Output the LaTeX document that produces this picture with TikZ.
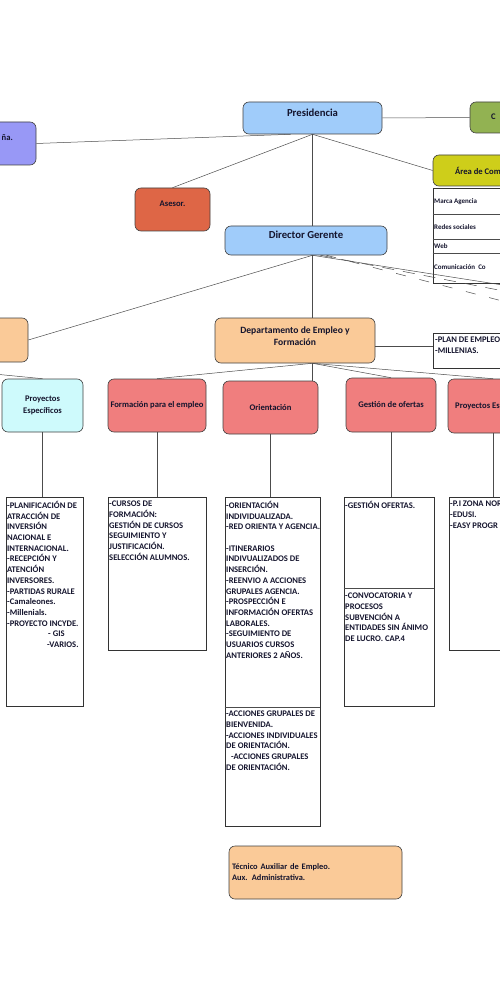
\documentclass[tikz,border=0pt]{standalone}
\usepackage{fontspec}
\setmainfont{Carlito}

\definecolor{azul}{RGB}{160,204,250}
\definecolor{lila}{RGB}{152,152,246}
\definecolor{verde}{RGB}{146,178,82}
\definecolor{teja}{RGB}{222,102,70}
\definecolor{amarillo}{RGB}{206,206,26}
\definecolor{melocoton}{RGB}{250,202,152}
\definecolor{salmon}{RGB}{240,126,126}
\definecolor{celeste}{RGB}{206,250,252}
\definecolor{tinta}{RGB}{20,20,45}

\tikzset{
  caja/.style={draw=black!75,line width=0.6pt,rounded corners=6pt,inner sep=1pt,
    align=center,text=tinta,font=\bfseries\fontsize{8.6}{12.5}\selectfont},
  rotulo/.style={inner sep=1pt,text=tinta,font=\bfseries\fontsize{8.6}{12.5}\selectfont},
  grande/.style={font=\bfseries\fontsize{10.7}{12}\selectfont},
  lista/.style={draw=black!80,line width=0.7pt,inner sep=0pt},
  texto/.style={anchor=north west,inner sep=1pt,align=left,text=tinta,
    font=\bfseries\fontsize{8.6}{10.7}\selectfont},
  fila/.style={anchor=west,inner sep=1pt,text=tinta,font=\bfseries\fontsize{7}{8}\selectfont},
  linea/.style={draw=black!70,line width=0.5pt},
}

\begin{document}
\begin{tikzpicture}[x=1pt,y=-1pt]
\useasboundingbox (0,0) rectangle (500,1000);
\clip (0,0) rectangle (500,1000);

% direccion
\node[caja,grande,fill=azul,minimum width=139pt,minimum height=32pt,text depth=11pt] (pres) at (312.5,118) {Presidencia};
\node[caja,fill=lila,minimum width=76pt,minimum height=43pt] (cia) at (-2,143.5) {};
\node[rotulo,anchor=east] (ciat) at (14,138) {ña.};
\node[caja,fill=verde,minimum width=90pt,minimum height=31pt] (grn) at (515,117.5) {};
\node[rotulo,anchor=west] (grnt) at (490,117) {C};
\node[caja,fill=teja,minimum width=75pt,minimum height=43pt,text depth=12pt] (ases) at (172.5,209.5) {Asesor.};
\node[caja,grande,fill=azul,minimum width=162pt,minimum height=29pt,text depth=12pt] (dg) at (306,240.5) {Director Gerente};
\node[caja,fill=amarillo,minimum width=124pt,minimum height=31pt] (com) at (495,170.5) {Área de Comunicación};

% tabla de comunicacion
\node[lista,minimum width=124pt,minimum height=95pt] (tbl) at (495,235.5) {};
\draw[linea] (tbl.west |- 0,214) -- (tbl.east |- 0,214);
\draw[linea] (tbl.west |- 0,239) -- (tbl.east |- 0,239);
\draw[linea] (tbl.west |- 0,253) -- (tbl.east |- 0,253);
\node[fila] (f1) at (433,202) {Marca Agencia};
\node[fila] (f2) at (433,227) {Redes sociales};
\node[fila] (f3) at (433,246) {Web};
\node[fila] (f4) at (433,267) {Comunicación~ Co};

\draw[linea] (pres.east) -- (grn.west);
\draw[linea] (cia.east) -- ([xshift=-22pt]pres.south);
\draw[linea] (pres.south) -- (ases.north);
\draw[linea] (pres.south) -- (pres.south |- dg.north);
\draw[linea] (pres.south) -- (com.west);

% departamentos
\coordinate (dgb) at (pres.south |- dg.south);
\coordinate (offr) at (560,294);
\coordinate (offd1) at (560,302);
\coordinate (offd2) at (560,316);
\node[caja,fill=melocoton,minimum width=88pt,minimum height=44pt] (lft) at (-16,340) {};
\node[caja,fill=melocoton,minimum width=160pt,minimum height=45pt,text depth=9pt,font=\bfseries\fontsize{9.6}{12.5}\selectfont] (dep) at (295,340.5) {Departamento de Empleo y\\Formación};
\node[lista,minimum width=124pt,minimum height=35pt] (plan) at (495,350.5) {};
\node[texto] (plant) at (434,336) {-PLAN DE EMPLEO\\-MILLENIAS.};

\draw[linea] (dgb) -- (lft.east);
\draw[linea] (dgb) -- (dgb |- dep.north);
\draw[linea] (dgb) -- (offr);
\draw[linea,dashed,dash pattern=on 12pt off 9pt] ([xshift=8pt]dgb) -- (offd1);
\draw[linea,dashed,dash pattern=on 10pt off 14pt] ([xshift=14pt]dgb) -- (offd2);
\draw[linea] ([yshift=-6pt]dep.east) -- ([yshift=-6pt]dep.east -| plan.west);

% areas
\coordinate (depb) at (dgb |- dep.south);
\coordinate (offl) at (-150,360);
\node[caja,fill=celeste,minimum width=81pt,minimum height=53pt] (pe) at (42.5,405.5) {Proyectos\\Específicos};
\node[caja,fill=salmon,minimum width=98pt,minimum height=53pt] (fpe) at (157,405.5) {Formación para el empleo};
\node[caja,fill=salmon,minimum width=95pt,minimum height=53pt] (ori) at (270.5,407.5) {Orientación};
\node[caja,fill=salmon,minimum width=90pt,minimum height=54pt] (gdo) at (391,405) {Gestión de ofertas};
\node[caja,fill=salmon,minimum width=90pt,minimum height=54pt] (pre) at (493,406) {Proyectos Específicos};

\draw[linea] (offl) -- (pe.north);
\draw[linea] (depb) -- (fpe.north);
\draw[linea] (depb) -- (depb |- ori.north);
\draw[linea] (depb) -- (gdo.north);
\draw[linea] (depb) -- (pre.north);

% listas de tareas
\node[lista,minimum width=77pt,minimum height=209pt] (lpe) at (44.5,601.5) {};
\node[lista,minimum width=98pt,minimum height=153pt] (lfpe) at (157,573.5) {};
\node[lista,minimum width=95pt,minimum height=329pt] (lori) at (272.5,661.5) {};
\node[lista,minimum width=90pt,minimum height=209pt] (lgdo) at (389,601.5) {};
\node[lista,minimum width=88pt,minimum height=153pt] (lpre) at (493,573.5) {};
\draw[linea] (lori.west |- 0,707) -- (lori.east |- 0,707);
\draw[linea] (lgdo.west |- 0,588) -- (lgdo.east |- 0,588);

\draw[linea] (pe.south) -- (pe.south |- lpe.north);
\draw[linea] (fpe.south) -- (fpe.south |- lfpe.north);
\draw[linea] (ori.south) -- (ori.south |- lori.north);
\draw[linea] (gdo.south) -- (gdo.south |- lgdo.north);
\draw[linea] (pre.south) -- (pre.south |- lpre.north);

\node[texto] (tpe) at (6,500) {-PLANIFICACIÓN DE\\ATRACCIÓN DE\\INVERSIÓN\\NACIONAL E\\INTERNACIONAL.\\-RECEPCIÓN Y\\ATENCIÓN\\INVERSORES.\\-PARTIDAS RURALE\\-Camaleones.\\-Millenials.\\-PROYECTO INCYDE.\\\hspace*{41pt}- GIS\\\hspace*{40pt}-VARIOS.};
\node[texto] (tfpe) at (108,500) {-CURSOS DE\\FORMACIÓN:\\GESTIÓN DE CURSOS\\SEGUIMIENTO Y\\JUSTIFICACIÓN.\\SELECCIÓN ALUMNOS.};
\node[texto] (tori) at (225,500) {-ORIENTACIÓN\\INDIVIDUALIZADA.\\-RED ORIENTA Y AGENCIA.\\[10.7pt]-ITINERARIOS\\INDIVUALIZADOS DE\\INSERCIÓN.\\-REENVIO A ACCIONES\\GRUPALES AGENCIA.\\-PROSPECCIÓN E\\INFORMACIÓN OFERTAS\\LABORALES.\\-SEGUIMIENTO DE\\USUARIOS CURSOS\\ANTERIORES 2 AÑOS.};
\node[texto] (tori2) at (225,710) {-ACCIONES GRUPALES DE\\BIENVENIDA.\\-ACCIONES INDIVIDUALES\\DE ORIENTACIÓN.\\\hspace*{5pt}-ACCIONES GRUPALES\\DE ORIENTACIÓN.};
\node[texto] (tgdo) at (344,500) {-GESTIÓN OFERTAS.};
\node[texto] (tgdo2) at (344,592) {-CONVOCATORIA Y\\PROCESOS\\SUBVENCIÓN A\\ENTIDADES SIN ÁNIMO\\DE LUCRO. CAP.4};
\node[texto] (tpre) at (449,500) {-P.I ZONA NOR\\-EDUSI.\\-EASY PROGR};

% personal
\node[caja,fill=melocoton,minimum width=173pt,minimum height=53pt,text width=167pt,align=left,font=\bfseries\fontsize{8.4}{11}\selectfont] (tec) at (315.5,872.5) {Técnico Auxiliar de Empleo.\\Aux. Administrativa.};
\end{tikzpicture}
\end{document}
